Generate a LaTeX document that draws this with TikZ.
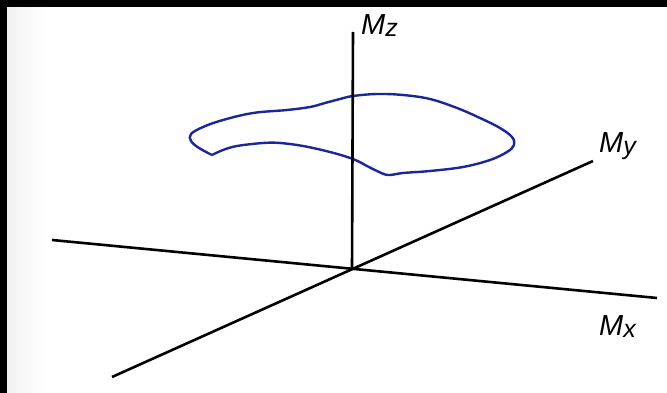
\documentclass[tikz,border=0pt]{standalone}
\usepackage{fontspec}
\setmainfont{Liberation Sans}
\definecolor{curveblue}{RGB}{28,38,150}
\newcommand{\axlabel}[2]{\fontsize{29}{29}\selectfont\itshape #1\raisebox{-2pt}{\fontsize{25}{25}\selectfont #2}}
\tikzset{
  axis/.style={line width=2.6pt, black},
  loop/.style={line width=2.4pt, curveblue, line join=round},
  lab/.style={inner sep=0pt, anchor=base west}
}
\begin{document}
\begin{tikzpicture}[x=1pt,y=-1pt]
\useasboundingbox (0,0) rectangle (667,393);
\fill[white] (0,0) rectangle (667,393);
\shade[left color=black!5, right color=white] (7,7) rectangle (45,393);
\fill[black] (0,0) rectangle (667,7);
\fill[black] (0,0) rectangle (7,393);
% axis end points
\coordinate (O) at (352,269);
\coordinate (ztop) at (353,32);
\coordinate (xl) at (52,240);
\coordinate (xr) at (657,298);
\coordinate (yl) at (112,377);
\coordinate (yr) at (593,161);
% closed curve
\draw[loop] plot[smooth, tension=0.6] coordinates {
 (212,155) (199,148) (191,141) (191,134) (203,127) (223,120) (253,113)
 (287,110) (310,107) (325,103) (340,99) (353,96) (377,94) (403,95)
 (430,99) (457,108) (480,118) (500,128) (512,137) (514,145) (507,152)
 (490,160) (463,167) (430,171) (403,173) (388,175) (377,171) (367,166)
 (353,159) (330,152) (303,146) (280,143) (263,143) (237,146) (223,150)
 (212,155)};
% axes
\draw[axis] (xl) -- (xr);
\draw[axis] (yl) -- (yr);
\draw[axis] (O) -- (ztop);
% labels
\node[lab] (mz) at (361,35) {\axlabel{M}{z}};
\node[lab] (my) at (599,153) {\axlabel{M}{y}};
\node[lab] (mx) at (599,335) {\axlabel{M}{x}};
\end{tikzpicture}
\end{document}
